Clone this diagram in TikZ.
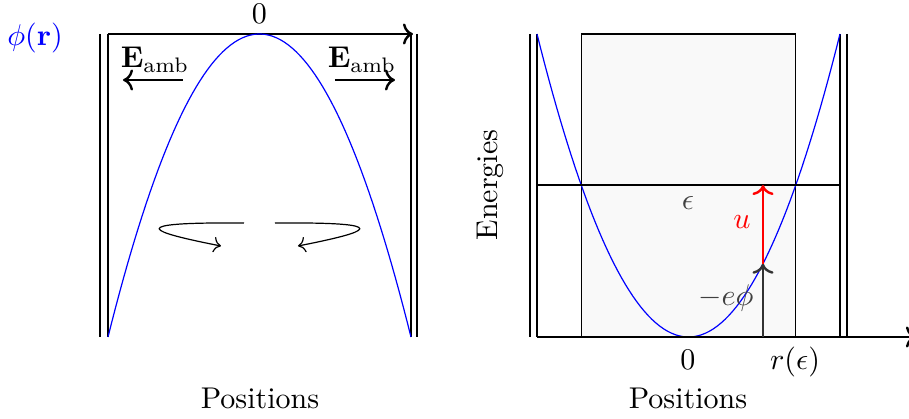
\documentclass[tikz,border=0pt]{standalone}
\usepackage{amsmath,amssymb}
\usepackage{tikz}
\usetikzlibrary{arrows.meta, positioning, calc}

\begin{document}
\begin{tikzpicture}[x=0.3333pt, y=-0.3333pt,
    wall/.style={thick},
    pot/.style={blue},
    dim/.style={text=black!75},
    hd/.style={font=\normalsize}
]
    \useasboundingbox (0,0) rectangle (909,419);
    \foreach \x in {100,108,411,417,530,537,840,847}
        \draw[wall] (\x,34) -- (\x,337);

    % left panel
    \coordinate (tl) at (108,34);
    \coordinate (apex) at (259.5,34);
    \coordinate (tr) at (413,34);
    \draw[thick,->] (tl) -- (tr);
    \draw[pot] plot[domain=-151.5:151.5, samples=80] ({259.5+\x},{34+303*(\x/151.5)^2});
    \node[above=0pt of apex] (zero) {$0$};
    \node[blue] (phi) at (35,38) {$\phi(\mathbf{r})$};
    \node (eL) at (155,60) {$\mathbf{E}_{\text{amb}}$};
    \node (eR) at (362,60) {$\mathbf{E}_{\text{amb}}$};
    \draw[thick,->] ($(eL)+(28,20)$) -- ($(eL)+(-32,20)$);
    \draw[thick,->] ($(eR)+(-27,20)$) -- ($(eR)+(33,20)$);
    \coordinate (cl) at (244,223);
    \coordinate (cr) at (275,223);
    \draw[->] (cl) .. controls (120,222) and (150,232) .. (221,246);
    \draw[->] (cr) .. controls (399,222) and (369,232) .. (298,246);
    \node[hd] (posL) at (260,398) {Positions};

    % right panel
    \draw[fill=gray!5] (581.2,34) rectangle (795.8,337);
    \draw[pot] plot[domain=-151.5:151.5, samples=80] ({688.5+\x},{337-303*(\x/151.5)^2});
    \coordinate (ax0) at (537,337);
    \coordinate (ax1) at (916,337);
    \draw[thick,->] (ax0) -- (ax1);
    \draw[thick] (537,185) -- (840,185);
    \coordinate (base) at (763,337);
    \coordinate (phir) at (763,263.7);
    \coordinate (lev) at (763,185);
    \draw[thick,black!80,->] (base) -- (phir);
    \draw[thick,red,->] (phir) -- (lev);
    \node[dim] (eps) at (688,203) {$\epsilon$};
    \node[red] (u) at (742,222) {$u$};
    \node[dim] (ephi) at (726,298) {$-e\phi$};
    \node (zeroR) at (688,360) {$0$};
    \node (reps) at (795,362) {$r(\epsilon)$};
    \node[hd, rotate=90] (en) at (490,185) {Energies};
    \node[hd] (posR) at (688,398) {Positions};
\end{tikzpicture}
\end{document}
